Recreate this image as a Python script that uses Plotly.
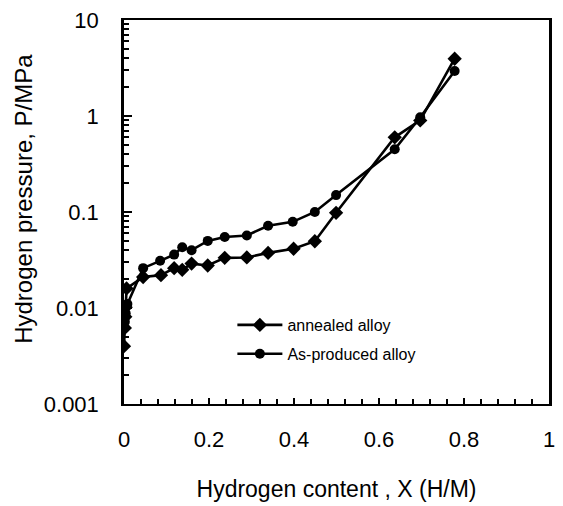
import plotly.graph_objects as go

# Annealed alloy (diamonds)
x_annealed = [0.0, 0.002, 0.003, 0.004, 0.006, 0.045, 0.087, 0.118, 0.137, 0.159,
              0.197, 0.237, 0.289, 0.339, 0.399, 0.449, 0.499, 0.637, 0.697, 0.778]
p_annealed = [0.004, 0.0062, 0.0081, 0.0102, 0.016, 0.021, 0.022, 0.026, 0.025, 0.029,
              0.0277, 0.0333, 0.0336, 0.0375, 0.0414, 0.0496, 0.098, 0.6, 0.9, 3.95]

# As-produced alloy (circles)
x_asprod = [0.001, 0.002, 0.004, 0.008, 0.045, 0.085, 0.118, 0.137, 0.159, 0.197,
            0.237, 0.289, 0.339, 0.397, 0.449, 0.499, 0.637, 0.697, 0.778]
p_asprod = [0.0062, 0.0072, 0.0088, 0.011, 0.026, 0.031, 0.036, 0.043, 0.040, 0.050,
            0.055, 0.057, 0.072, 0.079, 0.10, 0.15, 0.45, 0.97, 2.94]

x_ticks = [0, 0.2, 0.4, 0.6, 0.8, 1]
x_ticklabels = ["0", "0.2", "0.4", "0.6", "0.8", "1"]
y_ticks = [0.001, 0.01, 0.1, 1, 10]
y_ticklabels = ["0.001", "0.01", "0.1", "1", "10"]

x_title = "Hydrogen content , X (H/M)"
y_title = "Hydrogen pressure, P/MPa"

FONT = "Liberation Sans, Arial, sans-serif"

fig = go.Figure()
fig.add_trace(go.Scatter(
    x=x_annealed, y=p_annealed, mode="lines+markers", name="annealed alloy",
    legendgroup="a",
    line=dict(color="black", width=2.6),
    marker=dict(symbol="diamond", size=11, color="black"),
))
fig.add_trace(go.Scatter(
    x=x_asprod, y=p_asprod, mode="lines+markers", name="As-produced alloy",
    legendgroup="b",
    line=dict(color="black", width=2.6),
    marker=dict(symbol="circle", size=10, color="black"),
))

fig.update_layout(
    width=563, height=506,
    margin=dict(l=124, r=8, t=17, b=95),
    paper_bgcolor="white", plot_bgcolor="white",
    font=dict(family=FONT, color="black", size=22),
    showlegend=True,
    legend=dict(
        x=0.255, y=0.25, xanchor="left", yanchor="top",
        bgcolor="rgba(0,0,0,0)", font=dict(size=16, family=FONT),
        traceorder="grouped", tracegroupgap=5, itemwidth=45,
    ),
    annotations=[dict(
        text=y_title, textangle=-90, showarrow=False,
        xref="paper", yref="paper", x=-0.237, y=0.535,
        xanchor="center", yanchor="middle",
        font=dict(size=24, family=FONT, color="black"),
    )],
)
fig.update_xaxes(
    range=[0, 1], tickvals=x_ticks, ticktext=x_ticklabels,
    showgrid=False, zeroline=False,
    showline=True, linecolor="black", linewidth=2, mirror=True,
    ticks="inside", ticklen=6, tickwidth=1.5, tickcolor="black",
    minor=dict(dtick=0.04, ticks="inside", ticklen=5, tickwidth=1.5, tickcolor="black", showgrid=False),
    tickfont=dict(size=22), ticklabelstandoff=15,
    title=dict(text=x_title, font=dict(size=23), standoff=29),
)
fig.update_yaxes(
    type="log", range=[-3, 1], tickvals=y_ticks, ticktext=y_ticklabels,
    showgrid=False, zeroline=False,
    showline=True, linecolor="black", linewidth=2.5, mirror=True,
    ticks="inside", ticklen=8, tickwidth=1.5, tickcolor="black",
    minor=dict(dtick="D1", ticks="inside", ticklen=5, tickwidth=1.5, tickcolor="black", showgrid=False),
    tickfont=dict(size=22), ticklabelstandoff=18,
)

fig.write_html(
    "out.html",
    config={"displayModeBar": False},
    post_script="document.body.style.margin='0';document.body.style.overflow='hidden';",
)
